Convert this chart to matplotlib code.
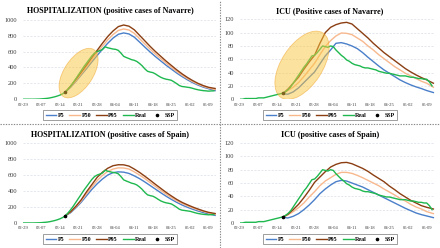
import numpy as np
import matplotlib
matplotlib.use('Agg')
import matplotlib.pyplot as plt
from matplotlib.patches import Ellipse
from matplotlib.lines import Line2D
from matplotlib.transforms import ScaledTranslation

plt.rcParams['font.family'] = ['Liberation Serif', 'DejaVu Serif']

# x axis: days since 02-29
tick_days = [0, 7, 14, 21, 28, 35, 42, 49, 56, 63, 70]
tick_labels = ['02-29', '03-07', '03-14', '03-21', '03-28', '04-04',
               '04-11', '04-18', '04-25', '05-02', '05-09']

# observed data, one value per day from 02-29
real_hosp = [0, 0, 0, 0, 0, 1, 2, 4, 7, 10, 15, 22, 30, 40, 52, 68, 90, 125, 165, 210,
             260, 310, 360, 410, 455, 500, 545, 580, 600, 612, 625, 660, 648, 640, 632,
             628, 615, 580, 540, 525, 512, 498, 490, 475, 450, 420, 382, 352, 342, 335,
             318, 296, 276, 262, 252, 246, 238, 218, 196, 172, 160, 156, 151, 146, 137,
             127, 119, 113, 108, 105, 102, 104, 105]
real_icu = [0, 0, 1, 1, 1, 1, 1, 2, 2, 2, 3, 4, 5, 6, 7, 8, 9, 11, 14, 18, 24, 30, 36,
            42, 48, 53, 59, 65, 66, 70, 75, 80, 79, 78, 80, 79, 74, 70, 66, 63, 59, 57,
            54, 52, 51, 50, 48, 47, 47, 46, 45, 44, 42, 41, 40, 39, 39, 38, 37, 36, 35,
            35, 35, 34, 33, 33, 32, 31, 31, 30, 30, 26, 20]

# starting point of the simulation
ssp_day = 16
ssp_hosp = 90
ssp_icu = 9

# model percentiles
model_days = [16, 18, 20, 22, 24, 26, 28, 30, 32, 34, 36, 38, 40, 42, 44, 46, 48, 50,
              52, 54, 56, 58, 60, 62, 64, 66, 68, 70, 72.5]

nav_hosp_p5 = [90, 150, 225, 305, 385, 470, 550, 630, 705, 770, 818, 835, 822, 782, 720,
               656, 594, 536, 482, 428, 379, 330, 286, 245, 209, 178, 152, 132, 108]
nav_hosp_p50 = [90, 158, 238, 322, 408, 497, 585, 668, 748, 815, 866, 885, 872, 830, 762,
                696, 630, 568, 511, 455, 402, 350, 303, 260, 222, 189, 162, 141, 122]
nav_hosp_p95 = [90, 165, 250, 340, 430, 525, 615, 705, 790, 860, 915, 935, 920, 875, 805,
                735, 665, 600, 540, 480, 425, 370, 320, 275, 235, 200, 172, 150, 135]

nav_icu_p5 = [8, 7.5, 11, 17, 25, 33, 41, 53, 65, 74, 84, 85, 83, 80, 76, 70, 63, 56.5,
              50, 44, 39, 34, 29, 25, 21.5, 18.5, 16, 13, 10]
nav_icu_p50 = [8, 13, 18, 25, 34, 44, 54, 67, 79, 88, 95, 99.5, 99, 97, 92, 87, 80, 74,
               67, 61, 55, 49, 44, 39, 35, 31, 27, 24, 18]
nav_icu_p95 = [8, 15, 24, 33, 45, 56, 66, 84, 100, 108, 112, 114.5, 115.5, 113, 106, 99,
               92, 84, 77, 70, 64, 58, 52, 46, 41, 36.5, 32.5, 29, 24]

esp_hosp_p5 = [90, 128, 190, 260, 340, 420, 490, 550, 600, 630, 640, 636, 620, 590, 555,
               513, 468, 423, 378, 335, 295, 258, 225, 197, 172, 150, 130, 113, 95]
esp_hosp_p50 = [90, 135, 200, 275, 365, 450, 530, 595, 645, 675, 690, 688, 675, 640, 600,
                555, 505, 457, 408, 360, 318, 278, 245, 215, 188, 165, 145, 126, 108]
esp_hosp_p95 = [90, 140, 210, 290, 390, 480, 571, 635, 685, 717, 729, 728, 712, 675, 633,
                585, 535, 483, 433, 383, 338, 295, 258, 228, 200, 175, 152, 133, 118]

esp_icu_p5 = [8.5, 7.5, 10, 14, 20, 27, 35, 44, 51, 57, 62, 64, 63, 60, 57, 54, 50, 46,
              42, 38, 34, 30, 26, 22, 18.5, 15, 12.5, 10.5, 8]
esp_icu_p50 = [8.5, 12, 17, 23, 30, 39, 47, 56, 63, 68, 73, 76, 76, 74.5, 71.5, 68, 64,
               60, 56, 51, 46.5, 42, 37, 33, 28, 24, 21, 17, 14]
esp_icu_p95 = [8.5, 13, 20, 28, 38, 49, 61, 69, 77, 84, 88, 90.5, 91, 89, 85.5, 82, 77.5,
               72, 67, 62, 55.5, 50, 44, 39, 34, 30, 26, 23.5, 21]

C_P5 = '#4a7fc9'
C_P50 = '#f8b88e'
C_P95 = '#8b3e12'
C_REAL = '#1fb84f'


def draw_panel(ax, p5, p50, p95, real, ssp, ymax, ystep, ellipse=None):
    ax.plot(model_days, p5, color=C_P5, lw=1.0, label='P5')
    ax.plot(model_days, p50, color=C_P50, lw=1.0, label='P50')
    ax.plot(model_days, p95, color=C_P95, lw=1.0, label='P95')
    ax.plot(np.arange(len(real)), real, color=C_REAL, lw=1.0, label='Real')
    ax.plot([ssp_day], [ssp], 'o', color='black', ms=1.6, label='SSP', zorder=5)

    if ellipse is not None:
        # ellipse size given in inches so it is not skewed by the axis scales
        (cx, cy), w, h, ang = ellipse
        tr = fig.dpi_scale_trans + ScaledTranslation(cx, cy, ax.transData)
        ax.add_patch(Ellipse((0, 0), w, h, angle=ang, transform=tr,
                             facecolor='#fbc640', alpha=0.5,
                             edgecolor='#ef9f20', lw=0.6, zorder=6))

    ax.set_xlim(0, 73)
    ax.set_ylim(0, ymax)
    ax.set_xticks(tick_days)
    ax.set_xticklabels(tick_labels)
    ax.set_yticks(np.arange(0, ymax + 1, ystep))
    ax.tick_params(axis='x', labelsize=3.3, length=0, pad=2.5, colors='#404040')
    ax.tick_params(axis='y', labelsize=4.6, length=0, pad=4, colors='#404040')
    ax.grid(axis='y', color='#d9dde6', lw=0.5, ls=(0, (3, 2)))
    ax.set_axisbelow(True)
    for s in ax.spines.values():
        s.set_visible(False)


fig = plt.figure(figsize=(4.4, 2.48), dpi=100)

# [left, bottom, width, height] in figure fraction
ax_tl = fig.add_axes([0.052, 0.600, 0.440, 0.320])
ax_tr = fig.add_axes([0.545, 0.600, 0.443, 0.322])
ax_bl = fig.add_axes([0.052, 0.101, 0.440, 0.322])
ax_br = fig.add_axes([0.545, 0.101, 0.443, 0.322])

draw_panel(ax_tl, nav_hosp_p5, nav_hosp_p50, nav_hosp_p95, real_hosp, ssp_hosp,
           1000, 200, ellipse=((21, 329), 0.56, 0.29, 57))
draw_panel(ax_tr, nav_icu_p5, nav_icu_p50, nav_icu_p95, real_icu, ssp_icu,
           120, 20, ellipse=((23.3, 51), 0.77, 0.41, 57))
draw_panel(ax_bl, esp_hosp_p5, esp_hosp_p50, esp_hosp_p95, real_hosp, ssp_hosp,
           1000, 200)
draw_panel(ax_br, esp_icu_p5, esp_icu_p50, esp_icu_p95, real_icu, ssp_icu,
           120, 20)

titles = [('HOSPITALIZATION (positive cases of Navarre)', 0.25, 0.955),
          ('ICU (Positive cases of Navarre)', 0.75, 0.955),
          ('HOSPITALIZATION (positive cases of Spain)', 0.25, 0.455),
          ('ICU (positive cases of Spain)', 0.75, 0.455)]
for txt, x, y in titles:
    fig.text(x, y, txt, ha='center', va='center', fontsize=5.8, fontweight='bold')

legend_pos = [(ax_tl, 0.25, 0.536), (ax_tr, 0.75, 0.536),
              (ax_bl, 0.25, 0.036), (ax_br, 0.75, 0.036)]
for ax, x, y in legend_pos:
    leg = ax.legend(loc='center', bbox_to_anchor=(x, y), bbox_transform=fig.transFigure,
                    ncol=5, frameon=True, fancybox=False,
                    handlelength=1.7, handletextpad=0.3, columnspacing=0.9,
                    borderpad=0.35, prop={'weight': 'bold', 'size': 4.3})
    leg.get_frame().set_edgecolor('#555555')
    leg.get_frame().set_linewidth(0.5)

# dotted separators between panels
fig.add_artist(Line2D([0, 1], [0.5, 0.5], transform=fig.transFigure,
                      color='#888888', lw=0.8, ls=(0, (1.2, 1.2))))
fig.add_artist(Line2D([0.5, 0.5], [0, 1], transform=fig.transFigure,
                      color='#888888', lw=0.8, ls=(0, (1.2, 1.2))))

fig.savefig('out.png', dpi=100)
